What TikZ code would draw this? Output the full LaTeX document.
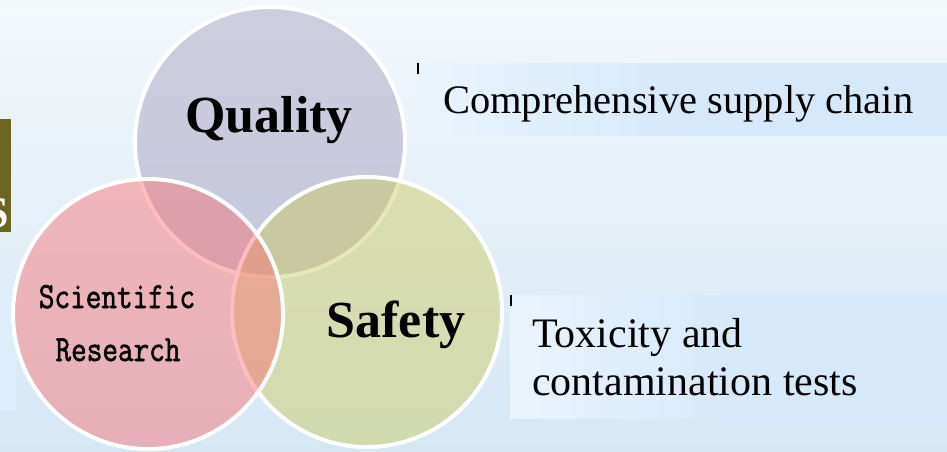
\documentclass[tikz,border=0pt]{standalone}
\usepackage{fontspec}
\setmainfont{Liberation Serif}
\newfontfamily\resfont[FakeBold=1.6]{Latin Modern Mono}
\definecolor{bgtop}{RGB}{243,248,251}
\definecolor{bgbot}{RGB}{214,231,244}
\definecolor{qcol}{RGB}{163,155,187}
\definecolor{pcol}{RGB}{251,109,114}
\definecolor{scol}{RGB}{204,202,91}
\definecolor{boxblue}{RGB}{214,233,250}
\definecolor{olive}{RGB}{107,101,34}
\definecolor{sideblue}{RGB}{221,238,252}
\pgfdeclarehorizontalshading{boxshade}{100bp}{color(0bp)=(white); color(50bp)=(boxblue); color(100bp)=(boxblue)}
\tikzset{
  venn/.style={circle, minimum size=270pt, inner sep=0pt, draw=white, line width=4pt, fill opacity=0.45},
  bigword/.style={anchor=base, font=\fontsize{52}{60}\selectfont\bfseries, text opacity=1},
  monoword/.style={anchor=base, inner sep=0pt, font=\resfont\fontsize{37}{40}\selectfont},
  sidebox/.style={shading=boxshade, draw=none},
  cursor/.style={line width=2pt, black},
  boxtext/.style={anchor=base west, inner sep=0pt}
}
\begin{document}
\begin{tikzpicture}[x=1pt,y=-1pt]
\useasboundingbox (0,0) rectangle (947,451);
\clip (0,0) rectangle (947,451);
\shade[top color=bgtop, bottom color=bgbot] (0,0) rectangle (947,451);
% left fragments
\fill[olive] (0,119) rectangle (11,232);
\node[anchor=base east, inner sep=0pt, text=white, font=\fontsize{44}{48}\selectfont\bfseries] (sfrag) at (9,227) {S};
\fill[sideblue] (0,285) rectangle (16,410);
% circles
\node[venn, fill=qcol] (quality) at (270,142) {};
\node[venn, fill=scol] (safety) at (367,312) {};
\node[venn, fill=pcol] (research) at (148,314) {};
% circle labels
\node[bigword] (qtext) at (269,132) {Quality};
\node[bigword] (stext) at (396,337) {Safety};
\node[monoword] (rtext1) at (117,308) {\scalebox{0.82}[1]{Scientific}};
\node[monoword] (rtext2) at (118,361) {\scalebox{0.82}[1]{Research}};
% right boxes
\shade[sidebox] (417,63) rectangle (947,135);
\draw[cursor] (418,63) -- (418,74);
\node[boxtext, font=\fontsize{40.5}{46}\selectfont] (supply) at (443,113) {Comprehensive supply chain};
\shade[sidebox] (510,295) rectangle (947,418);
\draw[cursor] (511,295) -- (511,306);
\node[boxtext, font=\fontsize{42}{48}\selectfont] (tox1) at (532,347) {Toxicity and};
\node[boxtext, font=\fontsize{42}{48}\selectfont] (tox2) at (532,395) {contamination tests};
\end{tikzpicture}
\end{document}
